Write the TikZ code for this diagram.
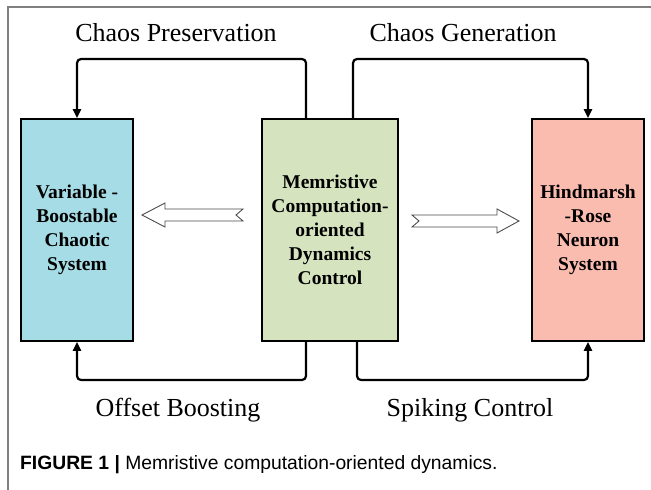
\documentclass[tikz,border=0pt]{standalone}
\usepackage{fontspec}
\setmainfont{Liberation Serif}
\newfontfamily\capfont{Liberation Sans}
\usetikzlibrary{arrows.meta}
\definecolor{frame}{RGB}{128,128,128}
\definecolor{bluebox}{RGB}{166,220,230}
\definecolor{greenbox}{RGB}{213,227,191}
\definecolor{redbox}{RGB}{251,188,176}
\tikzset{
  box/.style={draw=black, line width=1.6pt, minimum width=112pt, minimum height=222pt, inner sep=0pt,
    align=center, font=\fontsize{19.5}{24}\selectfont\bfseries},
  conn/.style={draw=black, line width=2.2pt, rounded corners=4pt, -{Triangle[length=9pt,width=8pt]}},
  lbl/.style={font=\fontsize{26}{30}\selectfont, inner sep=0pt},
  hollow/.style={draw=black!70, line width=0.9pt, fill=white}
}
\begin{document}
\begin{tikzpicture}[x=1pt,y=-1pt]
\useasboundingbox (0,0) rectangle (651,490);
\fill[white] (0,0) rectangle (651,490);
\draw[frame, line width=1.2pt] (651,7) -- (8,7) -- (8,490);

\node[box, fill=bluebox] (vb) at (77,230) {Variable -\\Boostable\\Chaotic\\System};
\node[box, fill=greenbox, minimum width=136pt] (mc) at (330,230) {Memristive\\Computation-\\oriented\\Dynamics\\Control};
\node[box, fill=redbox] (hr) at (588,230) {Hindmarsh\\-Rose\\Neuron\\System};

\coordinate (topY) at (0,59);
\coordinate (botY) at (0,380);

\draw[conn] ([xshift=-24pt]mc.north) |- (topY -| vb.north) -- (vb.north);
\draw[conn] ([xshift=23pt]mc.north) |- (topY -| hr.north) -- (hr.north);
\draw[conn] ([xshift=-24pt]mc.south) |- (botY -| vb.south) -- (vb.south);
\draw[conn] ([xshift=27pt]mc.south) |- (botY -| hr.south) -- (hr.south);

\node[lbl] (cp) at (176,33) {Chaos Preservation};
\node[lbl] (cg) at (463,33) {Chaos Generation};
\node[lbl] (ob) at (178,410) {Offset Boosting};
\node[lbl] (sc) at (470,410) {Spiking Control};

% hollow arrows
\draw[hollow] (142,215) -- (165,203) -- (165,209) -- (243,209) -- (236,215) -- (243,221) -- (165,221) -- (165,227) -- cycle;
\draw[hollow] (519,221) -- (497,209) -- (497,215) -- (412,215) -- (419,221) -- (412,227) -- (497,227) -- (497,233) -- cycle;

\node[anchor=west, inner sep=0pt, font=\capfont\fontsize{19.3}{22}\selectfont] (cap) at (20,465)
  {\textbf{FIGURE 1 |} Memristive computation-oriented dynamics.};
\end{tikzpicture}
\end{document}
